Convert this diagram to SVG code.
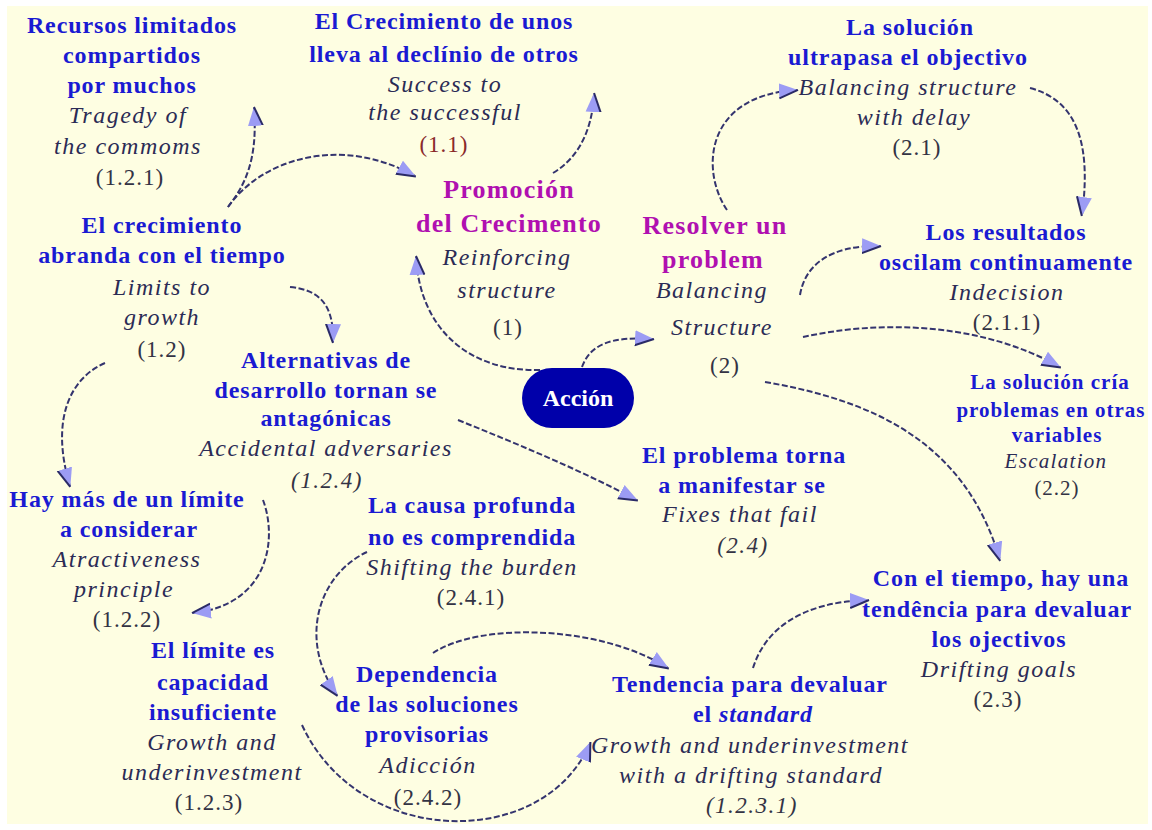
<svg xmlns="http://www.w3.org/2000/svg" width="1152" height="830" viewBox="0 0 1152 830">
<defs>
<style>
text{font-family:"Liberation Serif","Times New Roman",serif;text-anchor:middle}
.b{font-weight:bold;font-size:24px;fill:#1a1ad2;letter-spacing:0.9px}
.i{font-style:italic;font-size:24px;fill:#2b2b55;letter-spacing:1.5px}
.n{font-size:23px;fill:#333344;letter-spacing:1px}
.ni{font-style:italic;font-size:23px;fill:#333344;letter-spacing:1.5px}
.m{font-weight:bold;font-size:26px;fill:#b010b0;letter-spacing:1.2px}
.r{font-size:23px;fill:#8a2a2a;letter-spacing:1px}
.sb{font-weight:bold;font-size:21px;fill:#1a1ad2;letter-spacing:1px}
.si{font-style:italic;font-size:21px;fill:#2b2b55;letter-spacing:1.3px}
.sn{font-size:21px;fill:#333344;letter-spacing:1px}
.c{fill:none;stroke:#34346e;stroke-width:2;stroke-dasharray:6 2.5;marker-end:url(#ah)}
</style>
<marker id="ah" markerWidth="22" markerHeight="18" refX="18" refY="9" orient="auto" markerUnits="userSpaceOnUse">
<path d="M0,1.5 L19,9 L0,16.5 Z" fill="#9c9cf4"/>
<path d="M0,16.5 L19,9" stroke="#2a2a66" stroke-width="2" fill="none"/>
</marker>
</defs>
<rect x="0" y="0" width="1152" height="830" fill="#ffffff"/>
<rect x="7" y="6" width="1141" height="818" fill="#fefee2"/>

<g id="connectors">
<path class="c" d="M228 207 C245 185 258 160 254 108"/>
<path class="c" d="M228 207 C262 158 342 135 415 176"/>
<path class="c" d="M553 173 C575 160 592 135 594 94"/>
<path class="c" d="M540 370 C470 372 420 330 416 257"/>
<path class="c" d="M582 367 C590 345 610 336 653 339"/>
<path class="c" d="M727 210 C700 170 705 95 797 90"/>
<path class="c" d="M1030 88 C1075 100 1092 140 1082 215"/>
<path class="c" d="M800 295 C805 265 830 245 880 246"/>
<path class="c" d="M803 337 C880 320 980 322 1060 367"/>
<path class="c" d="M765 382 C870 400 965 440 1000 560"/>
<path class="c" d="M290 287 C320 290 334 305 333 342"/>
<path class="c" d="M105 363 C70 378 50 420 70 486"/>
<path class="c" d="M263 500 C278 540 268 605 193 613"/>
<path class="c" d="M458 420 C520 445 580 470 637 500"/>
<path class="c" d="M367 552 C318 575 298 640 337 695"/>
<path class="c" d="M433 653 C480 622 600 625 668 668"/>
<path class="c" d="M302 725 C360 850 545 850 590 743"/>
<path class="c" d="M753 668 C765 630 800 602 868 600"/>
</g>

<g id="n121">
<text class="b" x="132" y="33">Recursos limitados</text>
<text class="b" x="132" y="63">compartidos</text>
<text class="b" x="132" y="93">por muchos</text>
<text class="i" x="128" y="123">Tragedy of</text>
<text class="i" x="128" y="154">the commoms</text>
<text class="n" x="130" y="185">(1.2.1)</text>
</g>

<g id="n11">
<text class="b" x="444" y="29">El Crecimiento de unos</text>
<text class="b" x="444" y="62">lleva al declínio de otros</text>
<text class="i" x="445" y="92">Success to</text>
<text class="i" x="445" y="120">the successful</text>
<text class="r" x="444" y="152">(1.1)</text>
</g>

<g id="n21">
<text class="b" x="910" y="35">La solución</text>
<text class="b" x="908" y="65">ultrapasa el objectivo</text>
<text class="i" x="908" y="95">Balancing structure</text>
<text class="i" x="914" y="125">with delay</text>
<text class="n" x="917" y="155">(2.1)</text>
</g>

<g id="n12">
<text class="b" x="162" y="233">El crecimiento</text>
<text class="b" x="162" y="263">abranda con el tiempo</text>
<text class="i" x="162" y="295">Limits to</text>
<text class="i" x="162" y="325">growth</text>
<text class="n" x="162" y="357">(1.2)</text>
</g>

<g id="n1">
<text class="m" x="509" y="198">Promoción</text>
<text class="m" x="509" y="232">del Crecimento</text>
<text class="i" x="507" y="265">Reinforcing</text>
<text class="i" x="507" y="298">structure</text>
<text class="n" x="508" y="335">(1)</text>
</g>

<g id="n2">
<text class="m" x="715" y="234">Resolver un</text>
<text class="m" x="713" y="268">problem</text>
<text class="i" x="712" y="298">Balancing</text>
<text class="i" x="722" y="335">Structure</text>
<text class="n" x="725" y="373">(2)</text>
</g>

<g id="accion">
<rect x="522" y="368" width="112" height="60" rx="30" fill="#0000aa"/>
<text x="578" y="406" style="font-weight:bold;font-size:24px;fill:#ffffff">Acción</text>
</g>

<g id="n211">
<text class="b" x="1006" y="240">Los resultados</text>
<text class="b" x="1006" y="270">oscilam continuamente</text>
<text class="i" x="1007" y="300">Indecision</text>
<text class="n" x="1007" y="330">(2.1.1)</text>
</g>

<g id="n22">
<text class="sb" x="1050" y="389">La solución cría</text>
<text class="sb" x="1051" y="417">problemas en otras</text>
<text class="sb" x="1057" y="442">variables</text>
<text class="si" x="1056" y="468">Escalation</text>
<text class="sn" x="1057" y="495">(2.2)</text>
</g>

<g id="n124">
<text class="b" x="326" y="368">Alternativas de</text>
<text class="b" x="326" y="398">desarrollo tornan se</text>
<text class="b" x="326" y="426">antagónicas</text>
<text class="i" x="326" y="456">Accidental adversaries</text>
<text class="ni" x="327" y="488">(1.2.4)</text>
</g>

<g id="n122">
<text class="b" x="127" y="507">Hay más de un límite</text>
<text class="b" x="129" y="537">a considerar</text>
<text class="i" x="127" y="567">Atractiveness</text>
<text class="i" x="124" y="597">principle</text>
<text class="n" x="127" y="627">(1.2.2)</text>
</g>

<g id="n123">
<text class="b" x="213" y="658">El límite es</text>
<text class="b" x="213" y="690">capacidad</text>
<text class="b" x="213" y="720">insuficiente</text>
<text class="i" x="212" y="750">Growth and</text>
<text class="i" x="212" y="780">underinvestment</text>
<text class="n" x="209" y="810">(1.2.3)</text>
</g>

<g id="n241">
<text class="b" x="472" y="513">La causa profunda</text>
<text class="b" x="472" y="545">no es comprendida</text>
<text class="i" x="472" y="575">Shifting the burden</text>
<text class="n" x="471" y="605">(2.4.1)</text>
</g>

<g id="n24">
<text class="b" x="744" y="463">El problema torna</text>
<text class="b" x="742" y="493">a manifestar se</text>
<text class="i" x="740" y="522">Fixes that fail</text>
<text class="ni" x="743" y="553">(2.4)</text>
</g>

<g id="n242">
<text class="b" x="427" y="682">Dependencia</text>
<text class="b" x="427" y="712">de las soluciones</text>
<text class="b" x="427" y="742">provisorias</text>
<text class="i" x="428" y="773">Adicción</text>
<text class="n" x="428" y="805">(2.4.2)</text>
</g>

<g id="n23">
<text class="b" x="1001" y="586">Con el tiempo, hay una</text>
<text class="b" x="997" y="617">tendência para devaluar</text>
<text class="b" x="999" y="647">los ojectivos</text>
<text class="i" x="999" y="677">Drifting goals</text>
<text class="n" x="998" y="707">(2.3)</text>
</g>

<g id="n1231">
<text class="b" x="750" y="692">Tendencia para devaluar</text>
<text class="b" x="753" y="722">el <tspan font-style="italic">standard</tspan></text>
<text class="i" x="750" y="753">Growth and underinvestment</text>
<text class="i" x="751" y="783">with a drifting standard</text>
<text class="ni" x="752" y="813">(1.2.3.1)</text>
</g>
</svg>
